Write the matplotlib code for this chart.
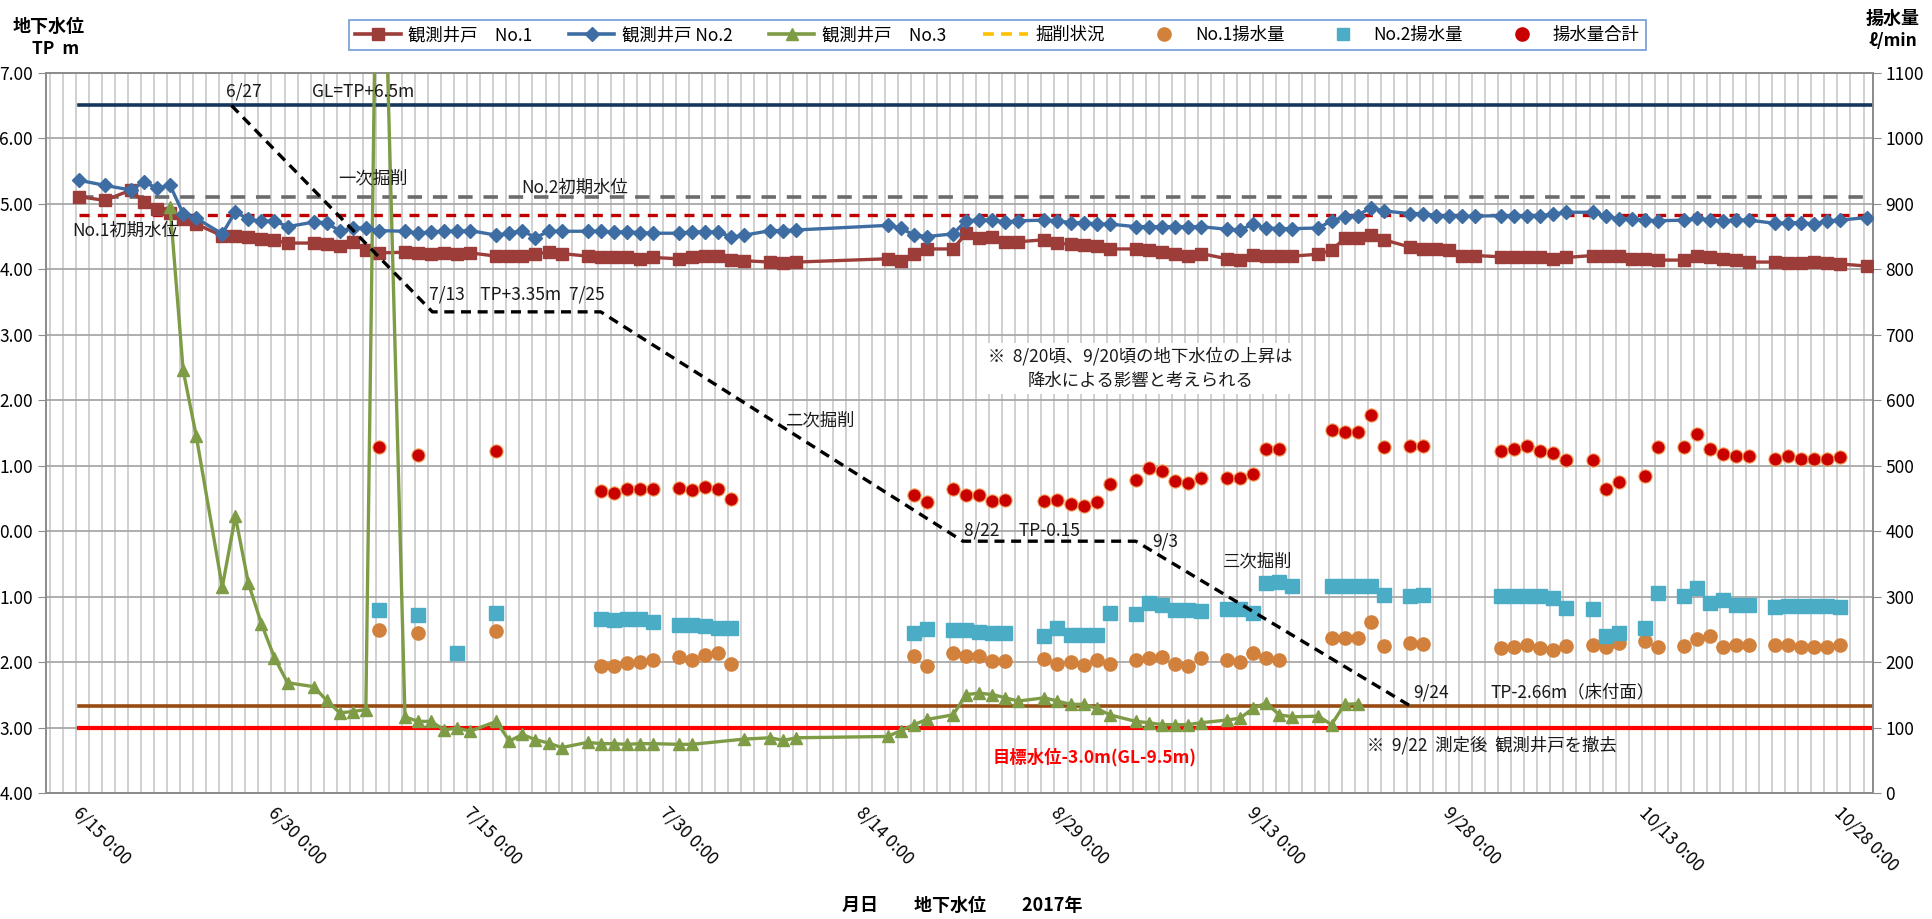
import numpy as np
import matplotlib
matplotlib.use("Agg")
import matplotlib.pyplot as plt
from matplotlib.lines import Line2D

plt.rcParams['font.family'] = ['Liberation Sans Narrow', 'Noto Sans CJK JP', 'DejaVu Sans']

# ---------------- data (x = days since 2017-06-15) ----------------
well_days = [0, 2, 4, 5, 6, 7, 8, 9, 11, 12, 13, 14, 15, 16, 18, 19, 20, 21, 22, 23,
             25, 26, 27, 28, 29, 30, 32, 33, 34, 35, 36, 37, 39, 40, 41, 42, 43, 44,
             46, 47, 48, 49, 50, 51, 53, 54, 55, 62, 63, 64, 65, 67, 68, 69, 70, 71, 72,
             74, 75, 76, 77, 78, 79, 81, 82, 83, 84, 85, 86, 88, 89, 90, 91, 92, 93,
             95, 96, 97, 98, 99, 100, 102, 103, 104, 105, 106, 107, 109, 110, 111, 112, 113, 114,
             116, 117, 118, 119, 120, 121, 123, 124, 125, 126, 127, 128, 130, 131, 132, 133, 134, 135, 137]
no1_level = [5.11, 5.05, 5.21, 5.02, 4.92, 4.86, 4.77, 4.69, 4.51, 4.51, 4.49, 4.46, 4.44, 4.40, 4.40, 4.38, 4.36, 4.42, 4.30, 4.25,
             4.26, 4.25, 4.24, 4.25, 4.24, 4.25, 4.20, 4.20, 4.21, 4.24, 4.26, 4.24, 4.20, 4.19, 4.18, 4.18, 4.16, 4.18,
             4.16, 4.19, 4.20, 4.20, 4.14, 4.13, 4.11, 4.10, 4.11, 4.16, 4.13, 4.23, 4.31, 4.31, 4.55, 4.48, 4.50, 4.42, 4.42,
             4.45, 4.40, 4.38, 4.37, 4.35, 4.31, 4.31, 4.29, 4.26, 4.24, 4.20, 4.24, 4.16, 4.14, 4.22, 4.21, 4.20, 4.20,
             4.23, 4.29, 4.47, 4.48, 4.52, 4.45, 4.34, 4.31, 4.31, 4.29, 4.21, 4.21, 4.19, 4.18, 4.18, 4.19, 4.16, 4.18,
             4.21, 4.20, 4.20, 4.16, 4.15, 4.14, 4.14, 4.21, 4.19, 4.16, 4.14, 4.11, 4.11, 4.10, 4.09, 4.11, 4.10, 4.08, 4.05]
no2_level = [5.36, 5.28, 5.21, 5.33, 5.24, 5.28, 4.85, 4.78, 4.54, 4.88, 4.76, 4.73, 4.74, 4.65, 4.72, 4.71, 4.58, 4.63, 4.63, 4.59,
             4.58, 4.55, 4.57, 4.58, 4.58, 4.59, 4.52, 4.55, 4.59, 4.48, 4.58, 4.58, 4.58, 4.58, 4.57, 4.57, 4.56, 4.55,
             4.55, 4.57, 4.57, 4.57, 4.49, 4.52, 4.59, 4.59, 4.60, 4.67, 4.63, 4.52, 4.50, 4.54, 4.74, 4.75, 4.75, 4.72, 4.74,
             4.75, 4.74, 4.71, 4.71, 4.69, 4.69, 4.65, 4.65, 4.65, 4.65, 4.65, 4.65, 4.61, 4.60, 4.69, 4.63, 4.62, 4.62,
             4.63, 4.74, 4.80, 4.82, 4.94, 4.89, 4.85, 4.85, 4.82, 4.81, 4.81, 4.81, 4.82, 4.82, 4.82, 4.82, 4.84, 4.87,
             4.87, 4.81, 4.77, 4.77, 4.75, 4.74, 4.75, 4.78, 4.75, 4.74, 4.75, 4.75, 4.70, 4.71, 4.71, 4.69, 4.74, 4.75, 4.79]

no3_days = [7, 8, 9, 11, 12, 13, 14, 15, 16, 18, 19, 20, 21, 22, 23, 25, 26, 27, 28, 29, 30,
            32, 33, 34, 35, 36, 37, 39, 40, 41, 42, 43, 44, 46, 47, 51, 53, 54, 55,
            62, 63, 64, 65, 67, 68, 69, 70, 71, 72, 74, 75, 76, 77, 78, 79,
            81, 82, 83, 84, 85, 86, 88, 89, 90, 91, 92, 93, 95, 96, 97, 98]
no3_level = [4.95, 2.46, 1.46, -0.85, 0.23, -0.79, -1.41, -1.93, -2.31, -2.37, -2.58, -2.77, -2.75, -2.72, 12.0,
             -2.83, -2.90, -2.90, -3.03, -3.00, -3.05,
             -2.90, -3.20, -3.10, -3.18, -3.23, -3.30, -3.22, -3.24, -3.24, -3.25, -3.24, -3.24, -3.25, -3.25,
             -3.17, -3.15, -3.19, -3.15,
             -3.13, -3.04, -2.95, -2.87, -2.80, -2.49, -2.47, -2.49, -2.54, -2.59, -2.54, -2.59, -2.64, -2.64, -2.70, -2.80,
             -2.90, -2.92, -2.95, -2.95, -2.95, -2.92, -2.88, -2.85, -2.70, -2.62, -2.80, -2.83, -2.82, -2.95, -2.64, -2.63]

pump_days = [23, 26, 32, 40, 41, 42, 43, 44, 46, 47, 48, 49, 50, 64, 65, 67, 68, 69, 70, 71,
             74, 75, 76, 77, 78, 79, 81, 82, 83, 84, 85, 86, 88, 89, 90, 91, 92,
             96, 97, 98, 99, 100, 102, 103, 109, 110, 111, 112, 113, 114, 116, 117, 118, 120, 121,
             123, 124, 125, 126, 127, 128, 130, 131, 132, 133, 134, 135]
pump_no1 = [249, 245, 248, 195, 195, 199, 200, 203, 208, 204, 212, 214, 197, 210, 195, 215, 210, 210, 202, 202,
            205, 198, 200, 196, 203, 198, 203, 207, 208, 198, 195, 207, 203, 200, 214, 207, 203,
            238, 237, 237, 261, 225, 229, 228, 222, 224, 227, 222, 219, 225, 227, 224, 229, 232, 224,
            225, 236, 240, 224, 227, 227, 227, 227, 224, 224, 224, 227]
pump_total = [529, 516, 523, 461, 458, 465, 465, 464, 466, 463, 468, 465, 450, 455, 445, 464, 455, 455, 447, 448,
              447, 448, 442, 439, 445, 472, 478, 496, 492, 477, 474, 482, 481, 481, 488, 526, 525,
              555, 551, 552, 578, 529, 530, 530, 523, 525, 530, 523, 519, 509, 509, 465, 476, 484, 529,
              528, 548, 526, 518, 515, 515, 511, 515, 510, 510, 511, 514]
pump2_days = [23, 26, 29, 32, 40, 41, 42, 43, 44, 46, 47, 48, 49, 50, 64, 65, 67, 68, 69, 70, 71,
              74, 75, 76, 77, 78, 79, 81, 82, 83, 84, 85, 86, 88, 89, 90, 91, 92, 93,
              96, 97, 98, 99, 100, 102, 103, 109, 110, 111, 112, 113, 114, 116, 117, 118, 120, 121,
              123, 124, 125, 126, 127, 128, 130, 131, 132, 133, 134, 135]
pump_no2 = [280, 273, 214, 275, 266, 264, 266, 266, 261, 257, 257, 255, 252, 252, 245, 251, 250, 249, 247, 245, 245,
            241, 252, 242, 242, 242, 275, 274, 290, 288, 280, 280, 279, 281, 281, 276, 321, 323, 316,
            317, 316, 316, 317, 303, 302, 303, 302, 301, 302, 301, 298, 283, 281, 240, 245, 252, 306,
            302, 313, 290, 295, 288, 288, 284, 286, 286, 286, 286, 285]

# excavation (drawn line) vertices
exc_days = [11.7, 27.1, 40.0, 67.75, 81.0, 102.0]
exc_level = [6.5, 3.35, 3.35, -0.15, -0.15, -2.66]

ref_levels = {'GL': 6.5, 'no2_init': 5.10, 'no1_init': 4.83, 'floor': -2.66, 'target': -3.0}

tick_days = [0, 15, 30, 45, 60, 75, 90, 105, 120, 135]
tick_labels = ['6/15 0:00', '6/30 0:00', '7/15 0:00', '7/30 0:00', '8/14 0:00',
               '8/29 0:00', '9/13 0:00', '9/28 0:00', '10/13 0:00', '10/28 0:00']

T = 0.23  # measurement time offset (fraction of a day)

c1 = '#9C3D3A'
c2 = '#3E6DA3'
c3 = '#7E9C45'
c_or = '#D2813C'
c_cy = '#4BACC6'
c_red = '#C80000'
grid_c = '#C4C4C4'

fig = plt.figure(figsize=(19.32, 9.19), dpi=100)
axr = fig.add_axes([0.0236, 0.1366, 0.9459, 0.7843])
axl = axr.twinx()
axl.yaxis.tick_left()
axr.yaxis.tick_right()

xmin, xmax = -2.31, 137.73
axr.set_xlim(xmin, xmax)
axr.set_ylim(0, 1100)
axl.set_ylim(-4, 7)

# grid on the base axes
axr.set_xticks(tick_days)
axr.set_xticks(np.arange(-2, 138), minor=True)
axr.set_yticks(np.arange(0, 1101, 100))
axr.grid(True, which='both', axis='x', color=grid_c, lw=1.1)
axr.grid(True, which='major', axis='y', color='#A8A8A8', lw=1.3)
axr.set_axisbelow(True)

axr.set_xticklabels(tick_labels, rotation=-45, ha='left', va='center', rotation_mode='anchor', fontsize=12.5)
axr.tick_params(axis='x', which='both', length=0, pad=12)
axr.tick_params(axis='y', length=6, color='#8C8C8C', labelsize=12.5, pad=3)
axl.set_yticks(np.arange(-4, 8))
axl.set_yticklabels([f"{abs(v):.2f}" for v in np.arange(-4, 8)])
axl.tick_params(axis='y', length=6, color='#8C8C8C', labelsize=12.5, pad=3)
for a in (axr, axl):
    for s in a.spines.values():
        s.set_color('#8C8C8C')
        s.set_linewidth(1.3)

# pumping (right axis)
axr.plot(np.array(pump_days) + T, pump_no1, ls='none', marker='o', ms=9.5, color=c_or, zorder=3)
axr.plot(np.array(pump2_days) + T, pump_no2, ls='none', marker='s', ms=9.5, color=c_cy, zorder=3)
axr.plot(np.array(pump_days) + T, pump_total, ls='none', marker='o', ms=9.5, color=c_red,
         markeredgecolor='#F3A05A', markeredgewidth=0.8, zorder=3)

# reference lines
x0 = T
axl.plot([x0, xmax], [ref_levels['GL']] * 2, color='#17365D', lw=2.6)
axl.plot([x0, xmax], [ref_levels['no2_init']] * 2, color='#6B6B6B', lw=2.6, ls=(0, (4, 3)))
axl.plot([x0, xmax], [ref_levels['no1_init']] * 2, color='#C00000', lw=2.4, ls=(0, (3, 2.5)))
axl.plot([x0, xmax], [ref_levels['floor']] * 2, color='#994C12', lw=2.6)
axl.plot([x0, xmax], [ref_levels['target']] * 2, color='#FF0000', lw=3.0)

# level series
axl.plot(np.array(well_days) + T, no1_level, color=c1, lw=2.4, marker='s', ms=9, zorder=4)
axl.plot(np.array(well_days) + T, no2_level, color=c2, lw=2.4, marker='D', ms=7, zorder=5)
axl.plot(np.array(no3_days) + T, no3_level, color=c3, lw=2.4, marker='^', ms=9, zorder=4)

# excavation
axl.plot(np.array(exc_days) + T, exc_level, color='black', lw=2.4, ls=(0, (3, 2)), zorder=6)

tk = dict(fontsize=12.5, color='#1A1A1A', zorder=7)
axl.text(12.9, 6.71, '6/27', ha='center', va='center', **tk)
axl.text(22.0, 6.71, 'GL=TP+6.5m', ha='center', va='center', **tk)
axl.text(22.8, 5.38, '一次掘削', ha='center', va='center', **tk)
axl.text(38.2, 5.24, 'No.2初期水位', ha='center', va='center', **tk)
axl.text(3.8, 4.59, 'No.1初期水位', ha='center', va='center', **tk)
axl.text(27.1, 3.62, '7/13    TP+3.35m  7/25', ha='left', va='center', **tk)
axl.text(57.0, 1.69, '二次掘削', ha='center', va='center', **tk)
axl.text(81.6, 2.49, '※  8/20頃、9/20頃の地下水位の上昇は\n降水による影響と考えられる', ha='center', va='center',
         linespacing=1.45, bbox=dict(facecolor='white', edgecolor='none', pad=3), **tk)
axl.text(68.1, 0.01, '8/22     TP-0.15', ha='left', va='center', **tk)
axl.text(83.5, -0.15, '9/3', ha='center', va='center', **tk)
axl.text(90.6, -0.46, '三次掘削', ha='center', va='center', **tk)
axl.text(102.5, -2.46, '9/24', ha='left', va='center', **tk)
axl.text(108.4, -2.46, 'TP-2.66m（床付面）', ha='left', va='center', **tk)
axl.text(98.95, -3.26, '※  9/22  測定後  観測井戸を撤去', ha='left', va='center', **tk)
axl.text(78.1, -3.44, '目標水位-3.0m(GL-9.5m)', ha='center', va='center', fontsize=12.5,
         color='#FF0000', fontweight='bold', zorder=7)

# axis titles
fig.text(49 / 1932, 1 - 26 / 919, '地下水位', ha='center', va='center', fontsize=13, fontweight='bold')
fig.text(56 / 1932, 1 - 49 / 919, 'TP  m', ha='center', va='center', fontsize=12.5, fontweight='bold')
fig.text(1893 / 1932, 1 - 18 / 919, '揚水量', ha='center', va='center', fontsize=13, fontweight='bold')
fig.text(1893 / 1932, 1 - 41 / 919, 'ℓ/min', ha='center', va='center', fontsize=12.5, fontweight='bold')
fig.text(962 / 1932, 1 - 905 / 919, '月日　　地下水位　　2017年', ha='center', va='center',
         fontsize=13, fontweight='bold')

# legend
handles = [
    Line2D([], [], color=c1, lw=2.6, marker='s', ms=9),
    Line2D([], [], color=c2, lw=2.6, marker='D', ms=7),
    Line2D([], [], color=c3, lw=2.6, marker='^', ms=9),
    Line2D([], [], color='#FFC000', lw=2.6, ls=(0, (3, 2))),
    Line2D([], [], ls='none', marker='o', ms=9.5, color=c_or),
    Line2D([], [], ls='none', marker='s', ms=9, color=c_cy),
    Line2D([], [], ls='none', marker='o', ms=9.5, color=c_red),
]
labels = ['観測井戸　No.1', '観測井戸 No.2', '観測井戸　No.3', '掘削状況', 'No.1揚水量', 'No.2揚水量', '揚水量合計']
leg = fig.legend(handles, labels, loc='center', bbox_to_anchor=((339 + 1656) / 2 / 1932, 1 - 35 / 919),
                 ncol=7, frameon=True, fancybox=False, edgecolor='#5B8BD0', fontsize=12.5,
                 handlelength=2.6, columnspacing=2.1, handletextpad=0.45, borderpad=0.35, borderaxespad=0)
leg.get_frame().set_linewidth(1.3)

fig.savefig('out.png', dpi=100)
